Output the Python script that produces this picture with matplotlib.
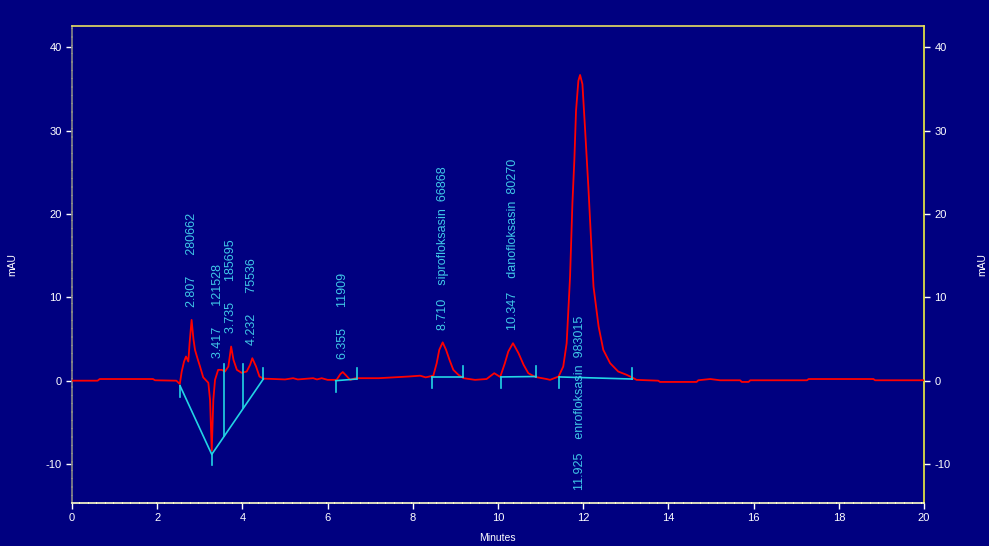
import numpy as np
import matplotlib.pyplot as plt
from matplotlib.ticker import MultipleLocator

# 크로마토그램 신호 (분, mAU)
time_min = [
    0.00, 0.60, 0.65, 1.90, 1.95, 2.45, 2.53, 2.575, 2.63, 2.676, 2.73, 2.76,
    2.807, 2.85, 2.887, 2.95, 3.005, 3.08, 3.20, 3.24, 3.28, 3.317, 3.357,
    3.43, 3.514, 3.59, 3.67, 3.735, 3.79, 3.87, 3.98, 4.10, 4.18, 4.232,
    4.32, 4.40, 4.49, 5.00, 5.19, 5.30, 5.66, 5.75, 5.86, 6.00, 6.21, 6.30,
    6.355, 6.42, 6.53, 6.65, 7.20, 7.90, 8.17, 8.30, 8.48, 8.56, 8.62, 8.70,
    8.78, 8.86, 8.95, 9.07, 9.19, 9.46, 9.73, 9.91, 10.05, 10.16, 10.24,
    10.35, 10.48, 10.60, 10.71, 10.87, 11.14, 11.22, 11.42, 11.53, 11.61,
    11.69, 11.745, 11.79, 11.83, 11.885, 11.925, 11.98, 12.04, 12.12, 12.175,
    12.24, 12.36, 12.47, 12.63, 12.82, 13.02, 13.18, 13.25, 13.76, 13.80,
    14.66, 14.70, 14.98, 15.21, 15.68, 15.72, 15.88, 15.92, 17.25, 17.29,
    18.81, 18.85, 20.00,
]
signal_mau = [
    0.0, 0.0, 0.2, 0.2, 0.05, 0.0, -0.4, 1.1, 2.3, 2.9, 2.3, 4.5,
    7.3, 5.0, 3.7, 2.6, 1.7, 0.4, -0.25, -2.3, -8.4, -2.3, 0.1,
    1.3, 1.3, 1.1, 1.7, 4.1, 2.5, 1.3, 0.95, 1.1, 1.9, 2.7,
    1.7, 0.5, 0.25, 0.15, 0.3, 0.15, 0.3, 0.15, 0.3, 0.1, 0.1, 0.8,
    1.04, 0.7, 0.1, 0.3, 0.3, 0.5, 0.6, 0.4, 0.6, 2.1, 3.7, 4.6,
    3.7, 2.5, 1.3, 0.7, 0.3, 0.1, 0.2, 0.9, 0.45, 2.1, 3.5,
    4.5, 3.3, 1.9, 0.9, 0.45, 0.2, 0.1, 0.5, 1.7, 4.5,
    12.5, 21.3, 26.4, 32.4, 36.0, 36.7, 35.6, 30.4, 23.2, 17.7,
    11.3, 6.5, 3.7, 2.1, 1.1, 0.7, 0.3, 0.1, 0.0, -0.15,
    -0.15, 0.05, 0.2, 0.05, 0.05, -0.15, -0.15, 0.05, 0.05, 0.2,
    0.2, 0.05, 0.05,
]

# 피크 정보
peak_rt = [2.807, 3.417, 3.735, 4.232, 6.355, 8.710, 10.347, 11.925]
peak_area = [280662, 121528, 185695, 75536, 11909, 66868, 80270, 983015]
peak_name = ["", "", "", "", "", "siprofloksasin", "danofloksasin", "enrofloksasin"]

# 적분 베이스라인
baseline_t = [[2.535, 3.28, 4.49], [6.19, 6.68], [8.44, 9.17], [10.07, 10.89], [11.44, 13.15]]
baseline_y = [[-0.6, -8.85, 0.2], [0.0, 0.2], [0.45, 0.45], [0.45, 0.5], [0.45, 0.2]]
drop_t = [3.57, 4.02]

BG = '#000080'
CYAN = '#22D4E4'
LABEL = '#40C8E8'

plt.rcParams['font.family'] = ['Liberation Sans', 'DejaVu Sans']
plt.rcParams['axes.unicode_minus'] = False

fig = plt.figure(figsize=(9.89, 5.46), dpi=100, facecolor=BG)
ax = fig.add_axes([0.0728, 0.0788, 0.8616, 0.8736], facecolor=BG)

ax.plot(time_min, signal_mau, color='#FF0000', linewidth=1.3, zorder=3)

# 베이스라인 + 시작/끝 표시
tick_len = 1.3
for bt, by in zip(baseline_t, baseline_y):
    ax.plot(bt, by, color=CYAN, linewidth=1.2, zorder=4)
    for t, y in zip(bt[:-1], by[:-1]):
        ax.plot([t, t], [y, y - tick_len], color=CYAN, linewidth=1.2, zorder=4)
    ax.plot([bt[-1], bt[-1]], [by[-1], by[-1] + tick_len], color=CYAN, linewidth=1.2, zorder=4)

for t in drop_t:
    yb = np.interp(t, baseline_t[0], baseline_y[0])
    ax.plot([t, t], [2.0, yb], color=CYAN, linewidth=1.2, zorder=4)

# 피크 라벨
for rt, area, name in zip(peak_rt, peak_area, peak_name):
    if name:
        txt = f"{rt:.3f}    {name}  {area}"
    else:
        txt = f"{rt:.3f}      {area}"
    y = np.interp(rt, time_min, signal_mau)
    ypos = y + 1.6 if y < 20 else -13.1
    ax.text(rt, ypos, txt, rotation=90, ha='center', va='bottom',
            color=LABEL, fontsize=9, zorder=5)

ax.set_xlim(0, 20)
ax.set_ylim(-14.68, 42.58)
ax.xaxis.set_major_locator(MultipleLocator(2))
ax.xaxis.set_minor_locator(MultipleLocator(0.2))
ax.yaxis.set_major_locator(MultipleLocator(10))
ax.yaxis.set_minor_locator(MultipleLocator(1))

ax.tick_params(which='major', colors='white', labelsize=8, length=4, width=1,
               right=True, labelright=True, direction='out')
ax.tick_params(which='minor', length=0, right=True)

ax.spines['left'].set_color('#888888')
ax.spines['left'].set_linestyle((0, (4.2, 0.8)))
ax.spines['bottom'].set_color('#FFFFCC')
ax.spines['bottom'].set_linestyle((0, (4.3, 0.8)))
ax.spines['top'].set_color('#E8E060')
ax.spines['right'].set_color('#F0F040')
for s in ax.spines.values():
    s.set_linewidth(1.2)

fig.text(0.012, 0.515, 'mAU', rotation=90, color='white', fontsize=7.5, ha='center', va='center')
fig.text(0.993, 0.515, 'mAU', rotation=90, color='white', fontsize=7.5, ha='center', va='center')
fig.text(0.503, 0.015, 'Minutes', color='white', fontsize=7.5, ha='center', va='center')

fig.savefig('out.png', dpi=100, facecolor=BG)
